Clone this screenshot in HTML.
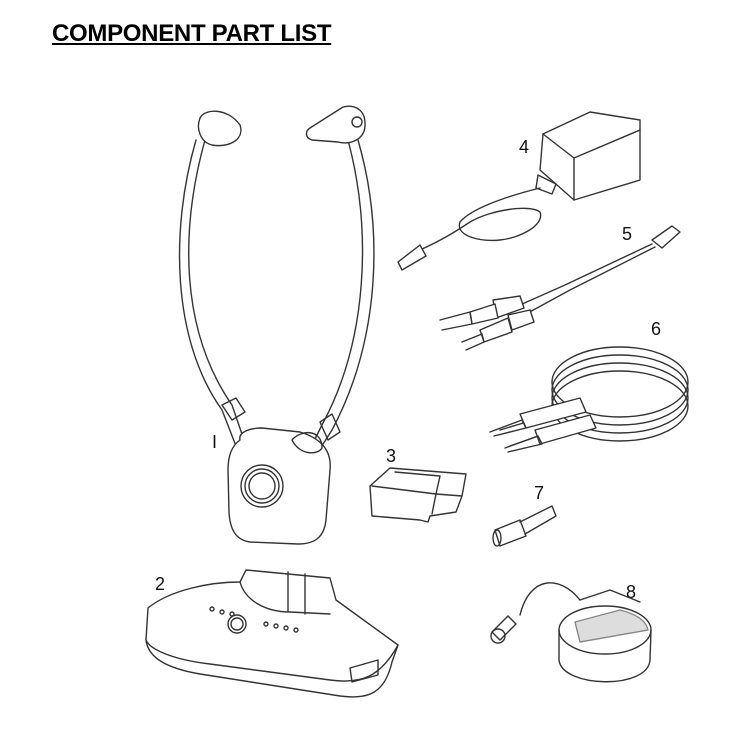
<!DOCTYPE html>
<html><head><meta charset="utf-8"><style>
html,body{margin:0;padding:0;background:#fff;width:735px;height:731px;overflow:hidden;position:relative}
h1{position:absolute;left:52px;top:20px;margin:0;font:bold 24px "Liberation Sans",sans-serif;text-decoration:underline;color:#000;letter-spacing:-0.3px}
svg{position:absolute;left:0;top:0}
.n{font:18px "Liberation Sans",sans-serif;fill:#111}
</style></head><body>
<h1>COMPONENT PART LIST</h1>
<svg width="735" height="731" viewBox="0 0 735 731" fill="none" stroke="#333" stroke-width="1.4" stroke-linejoin="round" stroke-linecap="round">
<!-- headset -->
<path d="M205 140 C180 230 180 330 232 405 L244 440" />
<path d="M196 140 C170 230 172 340 222 410 L236 446" />
<path d="M348 140 C372 230 368 340 322 425 L312 445" />
<path d="M358 140 C384 230 380 340 332 430 L318 452" />
<path d="M200 118 C205 108 228 108 240 125 C245 140 228 148 212 145 C200 142 196 128 200 118Z" fill="#fff"/>
<path d="M310 128 L343 107 C355 104 366 110 365 126 C364 140 350 145 338 142 L312 140 C305 138 305 131 310 128Z" fill="#fff"/>
<circle cx="357" cy="122" r="5"/>
<path d="M222 405 L236 398 L245 412 L232 420Z"/>
<path d="M320 422 L332 414 L340 432 L328 440Z"/>
<path d="M240 440 C238 432 250 428 262 428 L300 432 C320 438 332 450 330 470 L326 520 C324 538 314 544 298 544 L250 542 C236 540 230 530 229 512 L228 470 C228 455 232 446 240 440Z" fill="#fff"/>
<path d="M292 440 C300 430 322 428 322 448 C318 455 300 456 292 440Z"/>
<circle cx="262" cy="486" r="21"/><circle cx="262" cy="486" r="17"/><circle cx="262" cy="486" r="13"/>
<text x="212" y="448" class="n" stroke="none">I</text>
<!-- base (2) -->
<text x="155" y="590" class="n" stroke="none">2</text>
<path d="M148 608 C170 590 210 582 240 582 L246 570 L330 578 L336 600 L398 645 L392 662 C385 692 370 700 340 696 L200 674 C165 668 148 657 146 640Z" fill="#fff"/>
<path d="M146 640 C150 650 175 660 210 664 L330 680 C360 684 380 678 398 645"/>
<path d="M240 582 C245 600 265 612 290 612 L330 614 M288 572 L288 612 M305 574 L305 614"/>
<circle cx="237" cy="624" r="9"/><circle cx="237" cy="624" r="6"/>
<circle cx="212" cy="609" r="2"/><circle cx="222" cy="612" r="2"/><circle cx="232" cy="614" r="2"/>
<circle cx="266" cy="624" r="2"/><circle cx="276" cy="626" r="2"/><circle cx="286" cy="628" r="2"/><circle cx="296" cy="630" r="2"/>
<path d="M350 668 L378 660 L378 675 L352 682Z"/>
<!-- battery (3) -->
<text x="386" y="462" class="n" stroke="none">3</text>
<path d="M370 486 L390 468 L466 474 L462 496 L456 512 L430 516 L428 522 L420 520 L372 516Z" fill="#fff"/>
<path d="M372 486 L436 494 L462 496 M436 494 L432 514 M395 472 L440 476 L436 494"/>
<!-- adapter (4) -->
<text x="519" y="153" class="n" stroke="none">4</text>
<path d="M543 134 L590 112 L640 120 L640 180 L574 200 L540 170Z" fill="#fff"/>
<path d="M543 134 L574 158 L640 130 M574 158 L574 200"/>
<path d="M538 175 L556 184 L552 194 L536 188Z"/>
<path d="M540 188 C500 198 470 210 460 222 C455 236 480 242 500 240 C520 238 545 225 540 212 C530 204 490 210 470 222 C455 232 442 240 420 250"/>
<path d="M420 245 L398 262 L402 270 L426 256Z" fill="#fff"/>
<!-- RCA (5) -->
<text x="622" y="240" class="n" stroke="none">5</text>
<path d="M652 240 L672 226 L680 232 L662 248Z" fill="#fff"/>
<path d="M652 244 L565 285 L520 305 M655 247 L570 290 L526 314"/>
<path d="M493 300 L520 296 L524 308 L496 318Z" fill="#fff"/>
<path d="M470 312 L495 304 L498 318 L472 324Z" fill="#fff"/>
<path d="M440 320 L470 312 L472 324 L442 330"/>
<path d="M508 315 L530 310 L534 322 L512 330Z" fill="#fff"/>
<path d="M480 330 L508 318 L512 332 L484 342Z" fill="#fff"/>
<path d="M462 342 L482 334 L484 342 L466 350"/>
<!-- coil (6) -->
<text x="651" y="335" class="n" stroke="none">6</text>
<ellipse cx="620" cy="382" rx="68" ry="35"/>
<ellipse cx="620" cy="390" rx="68" ry="35"/>
<ellipse cx="620" cy="398" rx="68" ry="35"/>
<ellipse cx="620" cy="406" rx="68" ry="35"/>
<path d="M580 410 L540 418 L500 430 M588 420 L550 432 L510 446"/>
<path d="M520 414 L580 398 L586 412 L526 428Z" fill="#fff"/>
<path d="M535 430 L590 415 L596 428 L540 444Z" fill="#fff"/>
<path d="M490 432 L522 420 L526 428 L494 436"/>
<path d="M505 448 L538 436 L542 444 L508 452"/>
<!-- 7 -->
<text x="534" y="499" class="n" stroke="none">7</text>
<path d="M495 530 L520 520 L526 536 L500 546Z" fill="#fff"/>
<ellipse cx="497" cy="538" rx="4" ry="8"/>
<path d="M520 522 L552 506 L556 516 L525 534"/>
<!-- mic (8) -->
<text x="626" y="598" class="n" stroke="none">8</text>
<path d="M520 615 C530 575 560 575 580 600"/>
<path d="M492 632 L508 616 L516 624 L500 640Z"/>
<circle cx="498" cy="636" r="7"/>
<ellipse cx="605" cy="630" rx="46" ry="24" fill="#fff"/>
<path d="M559 630 L559 660 C562 688 648 690 650 660 L651 630"/>
<path d="M575 622 L620 610 C636 614 646 620 648 630 L580 642Z" fill="#ddd" stroke="#888"/>
<path d="M580 600 L610 590 L640 602"/>
</svg>
</body></html>
